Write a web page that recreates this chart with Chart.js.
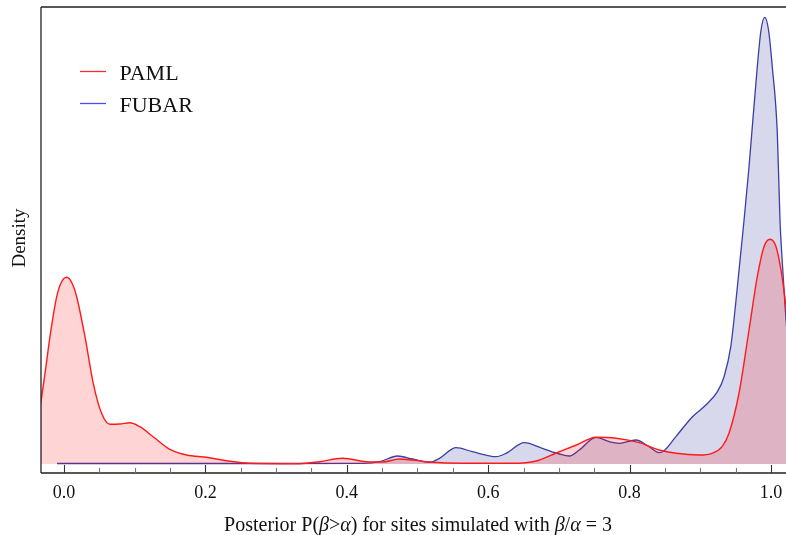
<!DOCTYPE html>
<html>
<head>
<meta charset="utf-8">
<script src="https://cdn.jsdelivr.net/npm/chart.js@4.4.1/dist/chart.umd.min.js"></script>
<style>
  html, body { margin: 0; padding: 0; background: #fff; overflow: hidden; }
  #wrap { width: 786px; height: 535px; position: relative; }
</style>
</head>
<body>
<div id="wrap"><canvas id="c" width="786" height="535"></canvas></div>
<script>
// ---- Data ----
const seriesNames = ["PAML", "FUBAR"];

const pamlX = [-0.0367, -0.0315, -0.0254, -0.0198, -0.0103, -0.0042, 0.0038, 0.0113, 0.0179, 0.0297,
  0.0414, 0.0532, 0.065, 0.0791, 0.0932, 0.1073, 0.1261, 0.1497, 0.1733, 0.2016,
  0.2298, 0.2627, 0.3333, 0.3616, 0.3941, 0.428, 0.4506, 0.4746, 0.4929, 0.5169,
  0.5636, 0.6342, 0.6681, 0.6963, 0.7246, 0.7528, 0.7811, 0.8136, 0.8418, 0.8658,
  0.8983, 0.9167, 0.9308, 0.9407, 0.9548, 0.9689, 0.9806, 0.9901, 0.9986, 1.0071,
  1.0141, 1.0198, 1.0254];
const pamlY = [44, 67.3, 98, 127.3, 167.3, 181, 186.7, 181, 167.3, 127.3,
  80.7, 50.7, 39.7, 40, 41.3, 37.3, 27.3, 14.7, 9, 6.7,
  3.3, 0.7, 0.3, 2.3, 5.7, 2.3, 2, 5, 4, 2,
  0.7, 0.7, 3, 11, 19, 26.7, 25.7, 21.3, 14, 10.7,
  9, 10.7, 17.3, 31, 71, 134, 187.3, 217.3, 224.7, 217.3,
  194, 165, 129];

const fubarX = [-0.0099, 0.1215, 0.2627, 0.4223, 0.4463, 0.4718, 0.4929, 0.5169, 0.5311, 0.5546,
  0.5777, 0.6112, 0.6253, 0.6511, 0.6766, 0.7006, 0.7147, 0.7288, 0.7524, 0.7712,
  0.7853, 0.8089, 0.8277, 0.8418, 0.8489, 0.8654, 0.8889, 0.9078, 0.9242, 0.9336,
  0.9431, 0.9501, 0.9572, 0.9619, 0.9689, 0.9806, 0.9859, 0.9911, 0.9965, 1.0018,
  1.0089, 1.0127, 1.0162, 1.0198, 1.0254];
const fubarY = [0.5, 0.5, 0.5, 0.7, 2.3, 8, 5, 1.7, 5.7, 16.3,
  12.3, 7.3, 10.7, 21.3, 15.7, 10, 8, 14, 26.7, 22.3,
  20.7, 24, 17.3, 11.3, 13.3, 27.3, 47.3, 59, 72.3, 87.3,
  117.3, 161, 211, 244, 297.3, 397.3, 434, 446.7, 434, 397.3,
  331, 244, 199, 159, 104];

const xTickValues = [0, 0.05, 0.1, 0.15, 0.2, 0.25, 0.3, 0.35, 0.4, 0.45, 0.5,
  0.55, 0.6, 0.65, 0.7, 0.75, 0.8, 0.85, 0.9, 0.95, 1.0];
const xTickLabels = ["0.0", "", "", "", "0.2", "", "", "", "0.4", "", "",
  "", "0.6", "", "", "", "0.8", "", "", "", "1.0"];

const xTitleParts = [
  ["Posterior P(", false], ["\u03B2", true], [">", false], ["\u03B1", true],
  [") for sites simulated with ", false], ["\u03B2", true], ["/", false], ["\u03B1", true], [" = 3", false]
];
const yTitle = "Density";

// ---- Build datasets ----
const toPts = (xs, ys) => xs.map((x, i) => ({ x: x, y: ys[i] }));

const SERIF = "'Liberation Serif', 'Times New Roman', serif";

const framePlugin = {
  id: 'framePlugin',
  afterDraw(chart) {
    const ctx = chart.ctx;
    const a = chart.chartArea;
    const xs = chart.scales.x;
    ctx.save();
    // frame
    ctx.strokeStyle = '#222';
    ctx.lineWidth = 1.3;
    ctx.beginPath();
    ctx.moveTo(a.left, a.bottom); ctx.lineTo(a.right + 2, a.bottom);
    ctx.moveTo(a.left, a.bottom); ctx.lineTo(a.left, a.top);
    ctx.moveTo(a.left, a.top); ctx.lineTo(a.right + 2, a.top);
    ctx.stroke();
    // inward ticks
    xTickValues.forEach((v, i) => {
      const px = Math.round(xs.getPixelForValue(v)) + 0.5;
      const major = xTickLabels[i] !== "";
      ctx.strokeStyle = major ? '#333' : '#777';
      ctx.lineWidth = 1.1;
      ctx.beginPath();
      ctx.moveTo(px, a.bottom);
      ctx.lineTo(px, a.bottom - (major ? 8 : 5));
      ctx.stroke();
    });
    // legend
    const leg = [
      { name: seriesNames[0], color: '#ff2a2a', y: 71 },
      { name: seriesNames[1], color: '#4c4cff', y: 103 }
    ];
    ctx.font = '22px ' + SERIF;
    ctx.textBaseline = 'alphabetic';
    ctx.textAlign = 'left';
    leg.forEach(l => {
      ctx.strokeStyle = l.color;
      ctx.lineWidth = 1.3;
      ctx.beginPath();
      ctx.moveTo(80, l.y + 0.5); ctx.lineTo(106, l.y + 0.5);
      ctx.stroke();
      ctx.fillStyle = '#111';
      ctx.fillText(l.name, 119.5, l.y + 8.5);
    });
    // x title with italic greek
    const fs = 20;
    let total = 0;
    const widths = xTitleParts.map(([t, it]) => {
      ctx.font = (it ? 'italic ' : '') + fs + 'px ' + SERIF;
      const w = ctx.measureText(t).width;
      total += w;
      return w;
    });
    let x = 418 - total / 2;
    ctx.fillStyle = '#111';
    xTitleParts.forEach(([t, it], i) => {
      ctx.font = (it ? 'italic ' : '') + fs + 'px ' + SERIF;
      ctx.fillText(t, x, 531);
      x += widths[i];
    });
    // y title
    ctx.save();
    ctx.translate(25, 238);
    ctx.rotate(-Math.PI / 2);
    ctx.font = '19px ' + SERIF;
    ctx.textAlign = 'center';
    ctx.fillText(yTitle, 0, 0);
    ctx.restore();
    ctx.restore();
  }
};

new Chart(document.getElementById('c'), {
  type: 'line',
  data: {
    datasets: [
      {
        label: seriesNames[0],
        data: toPts(pamlX, pamlY),
        borderColor: '#ff1a1a',
        backgroundColor: 'rgba(255,0,0,0.17)',
        borderWidth: 1.4,
        fill: { value: 0 },
        pointRadius: 0,
        cubicInterpolationMode: 'monotone'
      },
      {
        label: seriesNames[1],
        data: toPts(fubarX, fubarY),
        borderColor: '#3d3da6',
        backgroundColor: 'rgba(60,60,160,0.2)',
        borderWidth: 1.3,
        fill: { value: 0 },
        pointRadius: 0,
        cubicInterpolationMode: 'monotone'
      }
    ]
  },
  options: {
    responsive: false,
    animation: false,
    layout: { padding: { left: 41, top: 7, right: 0, bottom: 0 } },
    plugins: { legend: { display: false }, tooltip: { enabled: false }, title: { display: false } },
    scales: {
      x: {
        type: 'linear',
        min: -0.0325,
        max: 1.0212,
        afterBuildTicks(scale) { scale.ticks = xTickValues.map(v => ({ value: v })); },
        afterFit(scale) { scale.height = 62; scale.paddingLeft = 0; scale.paddingRight = 0; },
        grid: { display: false, drawTicks: false },
        border: { display: false },
        ticks: {
          autoSkip: false,
          maxRotation: 0,
          padding: 9,
          color: '#111',
          font: { family: SERIF, size: 18 },
          callback: (v, i) => xTickLabels[i]
        }
      },
      y: {
        display: false,
        min: -9,
        max: 457
      }
    }
  },
  plugins: [framePlugin]
});
</script>
</body>
</html>
